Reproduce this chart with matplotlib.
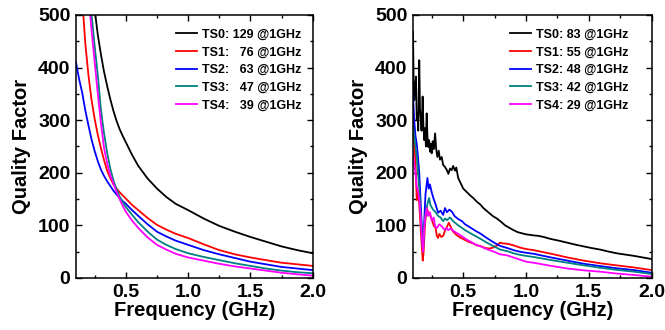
import matplotlib.pyplot as plt
from matplotlib.ticker import MultipleLocator

plt.rcParams['font.family'] = ['Liberation Sans', 'DejaVu Sans']
plt.rcParams['font.weight'] = 'bold'

colors = ['black', '#ff0000', '#0000ff', '#008080', '#ff00ff']

# ---- left panel (smooth curves) ----
f_sim = [0.10, 0.125, 0.15, 0.175, 0.20, 0.225, 0.25, 0.275, 0.30, 0.325, 0.35,
         0.375, 0.40, 0.425, 0.45, 0.475, 0.50, 0.55, 0.60, 0.675, 0.75, 0.825,
         0.90, 1.00, 1.125, 1.25, 1.375, 1.50, 1.625, 1.75, 1.875, 2.00]
q_sim_ts0 = [1300, 1040, 865, 740, 645, 570, 510, 462, 425, 392, 365,
             340, 318, 299, 283, 270, 258, 234, 213, 189, 170, 154,
             141, 129, 113, 99, 88, 78, 69, 60, 53, 47]
q_sim_ts1 = [820, 640, 530, 445, 385, 338, 302, 272, 247, 224, 204,
             190, 178, 170, 163, 157, 151, 139, 129, 114, 101, 92,
             84, 76, 64, 53, 45, 39, 34, 29, 26, 23]
q_sim_ts2 = [410, 378, 352, 318, 290, 263, 241, 222, 206, 194, 184,
             175, 166, 159, 152, 146, 141, 129, 118, 102, 88, 79,
             71, 63, 53, 45, 38, 31, 26, 21, 18, 15]
q_sim_ts3 = [1500, 1150, 950, 810, 700, 500, 440, 385, 320, 275, 238,
             208, 186, 169, 155, 144, 135, 120, 106, 88, 73, 63,
             55, 47, 40, 34, 28, 23, 18, 14, 11, 9]
q_sim_ts4 = [1300, 1000, 820, 680, 540, 470, 410, 350, 295, 247, 218,
             195, 180, 164, 150, 137, 126, 109, 95, 77, 63, 54,
             46, 39, 33, 27, 22, 18, 14, 10, 7, 4.5]
labels_sim = ['TS0: 129 @1GHz', 'TS1:   76 @1GHz', 'TS2:   63 @1GHz',
              'TS3:   47 @1GHz', 'TS4:   39 @1GHz']

# ---- right panel (measured) ----
f_m0 = [0.10, 0.105, 0.11, 0.117, 0.124, 0.13, 0.135, 0.142, 0.15, 0.156, 0.161,
        0.168, 0.177, 0.183, 0.19, 0.197, 0.203, 0.209, 0.215, 0.222, 0.229, 0.236,
        0.242, 0.249, 0.257, 0.265, 0.276, 0.285, 0.294, 0.305, 0.315, 0.329, 0.34,
        0.355, 0.37, 0.382, 0.395, 0.408, 0.42, 0.435, 0.445, 0.46, 0.48, 0.50,
        0.53, 0.555, 0.58, 0.608, 0.635, 0.66, 0.69, 0.714, 0.74, 0.768, 0.80,
        0.834, 0.87, 0.90, 0.935, 0.967, 1.00, 1.03, 1.06, 1.10, 1.14, 1.20, 1.26,
        1.33, 1.40, 1.46, 1.52, 1.59, 1.66, 1.72, 1.79, 1.86, 1.93, 2.00]
q_m0 = [468, 380, 338, 360, 383, 300, 313, 280, 414, 320, 306,
        280, 345, 290, 262, 285, 250, 313, 270, 249, 262, 240,
        255, 237, 260, 245, 275, 245, 230, 242, 225, 230, 215,
        211, 205, 198, 208, 205, 213, 204, 210, 190, 180, 170,
        163, 157, 152, 145, 140, 133, 127, 122, 117, 113, 107,
        100, 95, 91, 87, 85, 83, 82, 81, 80, 78, 74, 71,
        67, 63, 60, 57, 54, 50, 47, 44.5, 42, 39, 36]

f_m1 = [0.10, 0.11, 0.12, 0.13, 0.14, 0.15, 0.16, 0.17, 0.178, 0.185, 0.195,
        0.21, 0.22, 0.235, 0.25, 0.265, 0.28, 0.29, 0.30, 0.31, 0.325, 0.34,
        0.355, 0.37, 0.385, 0.395, 0.41, 0.42, 0.445, 0.475, 0.50, 0.54, 0.575,
        0.61, 0.645, 0.675, 0.71, 0.74, 0.77, 0.79, 0.81, 0.85, 0.888, 0.95,
        1.00, 1.06, 1.20, 1.33, 1.46, 1.59, 1.72, 1.86, 2.00]
q_m1 = [310, 260, 220, 148, 160, 140, 100, 60, 33, 50, 100,
        135, 125, 120, 110, 100, 95, 80, 76, 84, 78, 80,
        90, 97, 105, 100, 92, 88, 82, 77, 74, 69, 66,
        62, 60, 57, 56, 58, 62, 67, 66, 65, 63, 58,
        55, 53, 46, 39, 33, 28, 24, 20, 15]

f_m2 = [0.10, 0.11, 0.12, 0.13, 0.14, 0.15, 0.16, 0.17, 0.18, 0.19, 0.20,
        0.215, 0.225, 0.235, 0.25, 0.265, 0.28, 0.30, 0.32, 0.34, 0.355, 0.37,
        0.39, 0.41, 0.43, 0.46, 0.49, 0.515, 0.55, 0.595, 0.64, 0.675, 0.72,
        0.754, 0.794, 0.85, 0.90, 0.95, 1.00, 1.06, 1.20, 1.33, 1.46, 1.59,
        1.72, 1.86, 2.00]
q_m2 = [350, 300, 270, 255, 230, 200, 150, 100, 55, 110, 160,
        190, 170, 178, 162, 150, 140, 124, 128, 120, 133, 125,
        130, 126, 118, 112, 108, 102, 97, 90, 84, 78, 71,
        66, 61, 57, 53, 50, 48, 46, 39, 33, 27, 22.7,
        18.5, 15, 10]

f_m3 = [0.10, 0.11, 0.12, 0.13, 0.14, 0.15, 0.16, 0.17, 0.18, 0.19, 0.205,
        0.22, 0.228, 0.24, 0.26, 0.28, 0.30, 0.32, 0.34, 0.355, 0.37, 0.395,
        0.42, 0.46, 0.515, 0.55, 0.595, 0.64, 0.675, 0.72, 0.754, 0.794, 0.85,
        0.90, 0.95, 1.00, 1.06, 1.20, 1.33, 1.46, 1.59, 1.72, 1.86, 2.00]
q_m3 = [290, 270, 250, 230, 200, 170, 130, 90, 50, 100, 130,
        145, 152, 138, 130, 125, 118, 115, 108, 113, 110, 115,
        108, 100, 91, 86, 80, 74, 69, 63, 59, 54, 51,
        47, 44, 42, 40, 34, 29, 24, 19.5, 15.5, 12, 7.6]

f_m4 = [0.10, 0.11, 0.12, 0.13, 0.14, 0.15, 0.16, 0.17, 0.18, 0.19, 0.20,
        0.21, 0.22, 0.235, 0.25, 0.265, 0.276, 0.29, 0.31, 0.33, 0.35, 0.37,
        0.38, 0.40, 0.43, 0.46, 0.515, 0.55, 0.595, 0.64, 0.675, 0.72, 0.754,
        0.794, 0.85, 0.90, 0.95, 1.00, 1.06, 1.20, 1.33, 1.46, 1.59, 1.72,
        1.86, 2.00]
q_m4 = [240, 215, 200, 175, 165, 150, 120, 80, 50, 95, 120,
        133, 118, 125, 110, 115, 98, 95, 102, 98, 92, 95,
        91, 94, 88, 84, 75, 70, 64, 60, 56, 52, 49,
        45, 43, 39, 35, 31, 29, 23, 18, 14.5, 12, 8.5,
        5.7, 2.5]
labels_meas = ['TS0: 83 @1GHz', 'TS1: 55 @1GHz', 'TS2: 48 @1GHz',
               'TS3: 42 @1GHz', 'TS4: 29 @1GHz']

fig = plt.figure(figsize=(6.65, 3.3), dpi=100)
ax1 = fig.add_axes([0.1143, 0.1576, 0.356, 0.797])
ax2 = fig.add_axes([0.621, 0.1576, 0.359, 0.797])

sim = [q_sim_ts0, q_sim_ts1, q_sim_ts2, q_sim_ts3, q_sim_ts4]
for q, c, lab in zip(sim, colors, labels_sim):
    ax1.plot(f_sim, q, color=c, lw=1.3, label=lab)

meas = [(f_m0, q_m0), (f_m1, q_m1), (f_m2, q_m2), (f_m3, q_m3), (f_m4, q_m4)]
for (f, q), c, lab in zip(meas, colors, labels_meas):
    ax2.plot(f, q, color=c, lw=1.3, label=lab)

for ax in (ax1, ax2):
    ax.set_xlim(0.1, 2.0)
    ax.set_ylim(0, 500)
    ax.xaxis.set_major_locator(MultipleLocator(0.5))
    ax.xaxis.set_minor_locator(MultipleLocator(0.25))
    ax.yaxis.set_major_locator(MultipleLocator(100))
    ax.yaxis.set_minor_locator(MultipleLocator(50))
    ax.set_xticks([0.5, 1.0, 1.5, 2.0])
    ax.tick_params(which='both', direction='in', top=True, right=True, width=1.0)
    ax.tick_params(which='major', length=4.5, labelsize=14, pad=4)
    ax.tick_params(which='minor', length=2.5)
    for lbl in ax.get_xticklabels() + ax.get_yticklabels():
        lbl.set_fontweight('bold')
    for s in ax.spines.values():
        s.set_linewidth(1.1)
    ax.set_xlabel('Frequency (GHz)', fontsize=14.5, fontweight='bold', labelpad=0)
    ax.set_ylabel('Quality Factor', fontsize=14.5, fontweight='bold', labelpad=5)

leg_kw = dict(frameon=False, handlelength=1.7, handletextpad=0.4,
              labelspacing=0.45, prop={'weight': 'bold', 'size': 9})
ax1.legend(loc='upper right', bbox_to_anchor=(1.0, 0.99), **leg_kw)
ax2.legend(loc='upper right', bbox_to_anchor=(0.95, 0.99), **leg_kw)

fig.savefig('out.png', dpi=100)
